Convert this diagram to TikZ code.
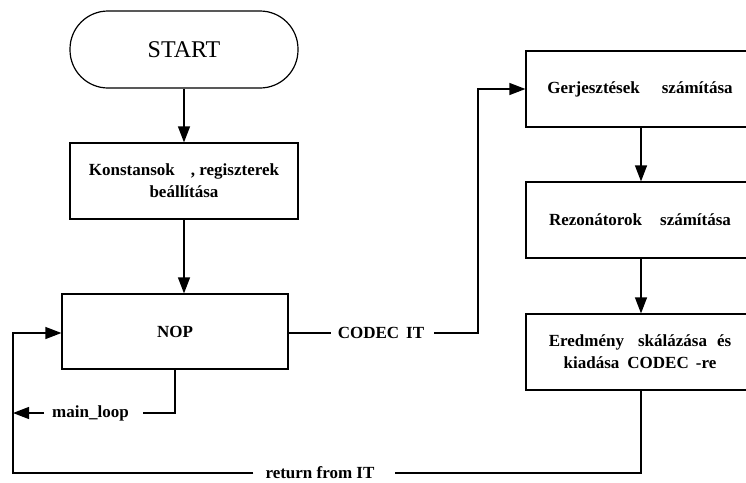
\documentclass[tikz,border=0pt]{standalone}
\usepackage{fontspec}
\setmainfont{Liberation Serif}
\usetikzlibrary{arrows.meta}
\tikzset{
  box/.style={draw, line width=1.2pt, align=center, font=\fontsize{17}{22}\selectfont\bfseries, inner sep=0pt},
  term/.style={draw, line width=1.2pt, rounded corners=38pt, minimum width=228pt, minimum height=77pt, font=\fontsize{24}{26}\selectfont, inner sep=0pt},
  lbl/.style={font=\fontsize{17}{20}\selectfont\bfseries, inner sep=0pt},
  conn/.style={line width=1.2pt},
  arr/.style={line width=1.2pt, -{Triangle[length=16pt,width=12pt]}}
}
\begin{document}
\begin{tikzpicture}[x=1pt,y=-1pt]
\useasboundingbox (0,0) rectangle (746,482);
\clip (0,0) rectangle (746,482);
\node[term] (start) at (184,49.5) {START};
\node[box, minimum width=228pt, minimum height=76pt] (konst) at (184,181) {Konstansok\hspace{16pt}, regiszterek\\beállítása};
\node[box, minimum width=226pt, minimum height=75pt] (nop) at (175,331.5) {NOP};
\node[box, minimum width=228pt, minimum height=76pt] (gerj) at (640,89) {Gerjesztések\hspace{22pt}számítása};
\node[box, minimum width=228pt, minimum height=76pt] (rez) at (640,220) {Rezonátorok\hspace{18pt}számítása};
\node[box, minimum width=228pt, minimum height=76pt] (ered) at (640,352) {Eredmény\hspace{14pt}skálázása\hspace{10pt}és\\kiadása\hspace{8pt}CODEC\hspace{7pt}-re};
\node[lbl] (codec) at (381,333) {CODEC\hspace{7pt}IT};
\node[lbl] (ml) at (90.5,413) {main\_loop};
\node[lbl] (ret) at (320,473) {return from IT};
\coordinate (l) at (13,0);
\coordinate (r) at (641,0);
\coordinate (cj) at (478,0);
\coordinate (mx) at (175,0);

\draw[arr] (start.south) -- (konst.north);
\draw[arr] (konst.south) -- (konst.south |- nop.north);
\draw[conn] (nop.east |- codec) -- ([xshift=-7pt]codec.west);
\draw[arr] ([xshift=10pt]codec.east) -- (cj |- codec) |- (gerj.west);
\draw[arr] (r |- gerj.south) -- (r |- rez.north);
\draw[arr] (r |- rez.south) -- (r |- ered.north);
\draw[conn] (r |- ered.south) |- ([xshift=20pt]ret.east);
\draw[arr] ([xshift=-12pt]ret.west) -| (l |- ml) |- (nop.west |- codec);
\draw[conn] (mx |- nop.south) |- ([xshift=14pt]ml.east);
\draw[arr] ([xshift=-8pt]ml.west) -- (l |- ml);
\end{tikzpicture}
\end{document}
